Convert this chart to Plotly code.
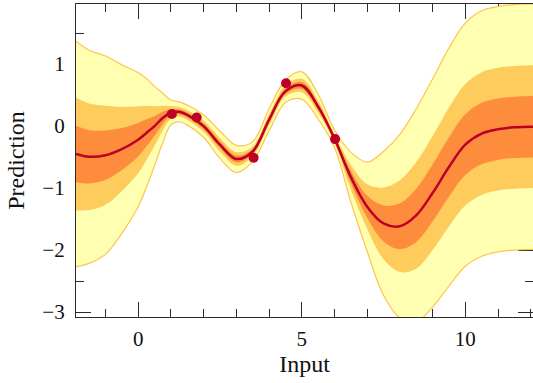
import plotly.graph_objects as go

# Values
x_grid = [-1.9, -1.5, -1.0, -0.5, 0.0, 0.25, 0.5, 0.75, 1.0, 1.25, 1.5, 2.0, 2.5, 3.0, 3.5, 4.0, 4.5,
          5.0, 5.5, 6.0, 6.5, 7.0, 7.5, 8.0, 8.5, 9.0, 9.5, 10.0, 10.5, 11.0, 11.5, 12.1]
mean = [-0.45, -0.495, -0.47, -0.37, -0.22, -0.11, 0.0, 0.13, 0.22, 0.23, 0.18, 0.0, -0.30, -0.53, -0.41, 0.1, 0.56,
        0.655, 0.315, -0.2, -0.82, -1.30, -1.57, -1.615, -1.44, -1.08, -0.66, -0.30, -0.12, -0.05, -0.02, -0.01]
sd = [0.455, 0.43, 0.40, 0.34, 0.27, 0.22, 0.16, 0.10, 0.05, 0.04, 0.04, 0.045, 0.055, 0.055, 0.04, 0.045, 0.045,
      0.055, 0.05, 0.035, 0.10, 0.18, 0.29, 0.37, 0.43, 0.46, 0.48, 0.49, 0.495, 0.495, 0.495, 0.495]
obs_x = [1.03, 1.79, 3.53, 4.52, 6.02]
obs_y = [0.196, 0.14, -0.51, 0.69, -0.21]

band_mult = [4, 2, 1]
band_colors = ["#ffffb2", "#fecc5c", "#fd8d3c"]
edge_color = "#fec44f"
line_color = "#bd0026"
axis_color = "#2a2a2a"
font_family = "Liberation Serif"

fig = go.Figure()
for k, col in zip(band_mult, band_colors):
    lower = [m - k * s for m, s in zip(mean, sd)]
    upper = [m + k * s for m, s in zip(mean, sd)]
    edge_w = 1.2 if k == band_mult[0] else 0
    fig.add_trace(go.Scatter(x=x_grid, y=lower, mode="lines",
                             line=dict(color=edge_color, width=edge_w, shape="spline", smoothing=1.0),
                             hoverinfo="skip", showlegend=False))
    fig.add_trace(go.Scatter(x=x_grid, y=upper, mode="lines", fill="tonexty", fillcolor=col,
                             line=dict(color=edge_color, width=edge_w, shape="spline", smoothing=1.0),
                             hoverinfo="skip", showlegend=False))

fig.add_trace(go.Scatter(x=x_grid, y=mean, mode="lines",
                         line=dict(color=line_color, width=2.5, shape="spline", smoothing=1.0),
                         showlegend=False))
fig.add_trace(go.Scatter(x=obs_x, y=obs_y, mode="markers",
                         marker=dict(color=line_color, size=10), showlegend=False))

axis_common = dict(showgrid=False, zeroline=False, showline=True, linecolor=axis_color, linewidth=1.2,
                   mirror="ticks", ticks="inside", ticklen=15, tickwidth=1.2, tickcolor=axis_color,
                   layer="below traces", automargin=False,
                   tickfont=dict(family=font_family, size=21, color="#111"))

fig.update_xaxes(range=[-1.9, 12.07], tick0=0, dtick=5,
                 minor=dict(dtick=1, ticklen=8, ticks="inside", tickcolor=axis_color, tickwidth=1.2),
                 title=dict(text="Input", font=dict(family=font_family, size=24, color="#111"), standoff=2),
                 ticklabelstandoff=3,
                 **axis_common)
fig.update_yaxes(range=[-3.08, 1.97], tick0=0, dtick=1,
                 minor=dict(dtick=0.5, ticklen=8, ticks="inside", tickcolor=axis_color, tickwidth=1.2),
                 title=dict(text="Prediction", font=dict(family=font_family, size=24, color="#111"), standoff=10),
                 ticklabelstandoff=6,
                 **axis_common)

fig.update_layout(width=533, height=383, margin=dict(l=76, r=0, t=4, b=66, autoexpand=False),
                  plot_bgcolor="white", paper_bgcolor="white", showlegend=False)

fig.write_html("out.html", config={"displayModeBar": False},
               post_script="document.body.style.margin='0';document.body.style.overflow='hidden';")
